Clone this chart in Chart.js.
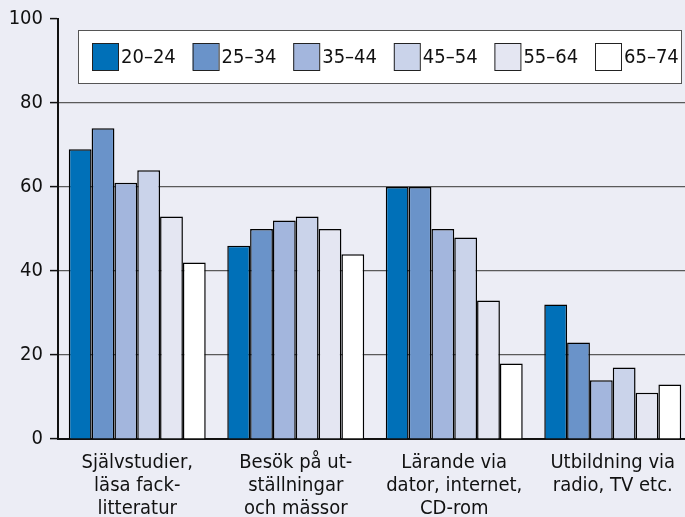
<!DOCTYPE html>
<html>
<head>
<meta charset="utf-8">
<script src="https://cdn.jsdelivr.net/npm/chart.js@4.4.1/dist/chart.umd.min.js"></script>
<style>
  html, body { margin: 0; padding: 0; background: #ECEDF5; overflow: hidden; }
  #wrap { width: 692px; height: 517px; position: relative; }
</style>
</head>
<body>
<div id="wrap"><canvas id="chart"></canvas></div>
<script>
// kategorier och åldersgrupper
const categories = [
    ['Självstudier,', 'läsa fack-', 'litteratur'],
    ['Besök på ut-', 'ställningar', 'och mässor'],
    ['Lärande via', 'dator, internet,', 'CD-rom'],
    ['Utbildning via', 'radio, TV etc.']
];
const ageGroups = ['20–24', '25–34', '35–44', '45–54', '55–64', '65–74'];
const groupColors = ['#0070B8', '#6A93C9', '#A3B6DD', '#CAD3EA', '#E4E6F2', '#FFFFFF'];

// värden per åldersgrupp (procent)
const v20_24 = [69, 46, 60, 32];
const v25_34 = [74, 50, 60, 23];
const v35_44 = [61, 52, 50, 14];
const v45_54 = [64, 53, 48, 17];
const v55_64 = [53, 50, 33, 11];
const v65_74 = [42, 44, 18, 13];
const seriesValues = [v20_24, v25_34, v35_44, v45_54, v55_64, v65_74];

const yTicks = [0, 20, 40, 60, 80, 100];
const FONT = "'Liberation Sans Narrow', 'Arial Narrow', 'DejaVu Sans Condensed', sans-serif";

// legend i vit ruta inne i diagrammet
const boxLegend = {
    id: 'boxLegend',
    afterDraw(chart) {
        const ctx = chart.ctx;
        ctx.save();
        ctx.fillStyle = '#FFFFFF';
        ctx.strokeStyle = '#555';
        ctx.lineWidth = 1;
        ctx.fillRect(78, 30, 603, 53);
        ctx.strokeRect(78.5, 30.5, 603, 53);
        ctx.font = '20px ' + FONT;
        ctx.textBaseline = 'middle';
        let x = 92;
        chart.data.datasets.forEach((ds, i) => {
            ctx.fillStyle = ds.backgroundColor;
            ctx.fillRect(x, 43, 26, 27);
            ctx.strokeStyle = '#222';
            ctx.strokeRect(x + 0.5, 43.5, 26, 27);
            ctx.fillStyle = '#111';
            ctx.fillText(ds.label, x + 29, 58);
            x += 100.6;
        });
        ctx.restore();
    }
};

new Chart(document.getElementById('chart'), {
    type: 'bar',
    data: {
        labels: categories,
        datasets: ageGroups.map((g, i) => ({
            label: g,
            data: seriesValues[i],
            backgroundColor: groupColors[i],
            borderColor: '#000',
            borderWidth: 1.5,
            categoryPercentage: 0.864,
            barPercentage: 1
        }))
    },
    options: {
        responsive: true,
        maintainAspectRatio: false,
        animation: false,
        layout: { padding: { top: 18, left: 0, right: 0, bottom: 0 } },
        plugins: {
            legend: { display: false },
            tooltip: { enabled: false }
        },
        scales: {
            x: {
                grid: { display: false },
                border: { color: '#111', width: 2 },
                ticks: {
                    color: '#111',
                    padding: 4,
                    maxRotation: 0,
                    autoSkip: false,
                    font: { family: FONT, size: 20, lineHeight: 1.15 }
                },
                afterFit(scale) { scale.height = 78; }
            },
            y: {
                min: 0,
                max: 100,
                afterBuildTicks(scale) { scale.ticks = yTicks.map(v => ({ value: v })); },
                grid: {
                    color: ctx => (ctx.tick && (ctx.tick.value === 0 || ctx.tick.value === 100)) ? 'rgba(0,0,0,0)' : '#5a5a5a',
                    lineWidth: 1.2,
                    tickColor: '#111',
                    tickLength: 8,
                    tickWidth: 1.5
                },
                border: { color: '#111', width: 2 },
                ticks: {
                    color: '#111',
                    padding: 7,
                    font: { family: FONT, size: 20 }
                },
                afterFit(scale) { scale.width = 58; }
            }
        }
    },
    plugins: [boxLegend]
});
</script>
</body>
</html>
